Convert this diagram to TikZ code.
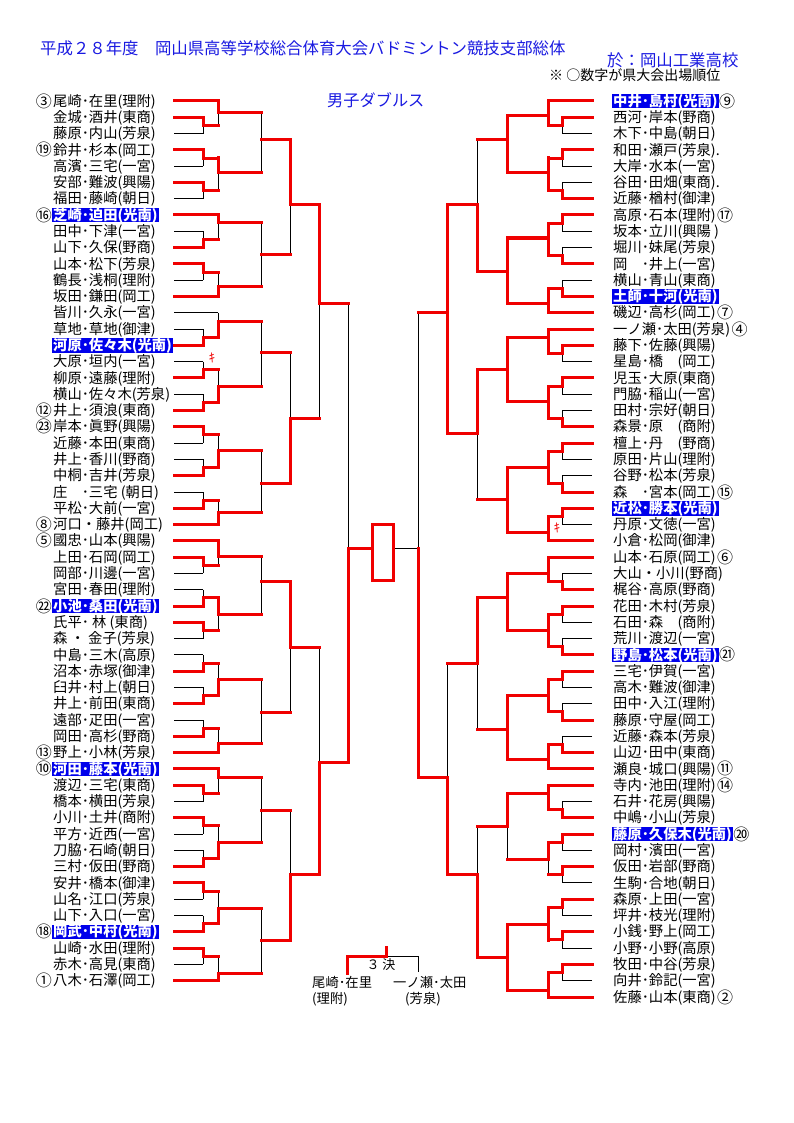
\documentclass[tikz,border=0pt]{standalone}
\usepackage{fontspec}
\setmainfont{Noto Sans CJK JP}
\pgfdeclarelayer{back}
\pgfdeclarelayer{bg}
\pgfsetlayers{back,bg,main}
\definecolor{rd}{RGB}{240,0,0}
\definecolor{tb}{RGB}{26,26,225}
\definecolor{hb}{RGB}{0,0,235}
\newcommand\nmfont{\fontsize{14.3}{15}\selectfont}
\newcommand\ccfont{\fontsize{16}{16}\selectfont}
\newcommand\RH[3]{\draw[rdl] (#1,#3) -- (#2,#3);}
\newcommand\BH[3]{\begin{pgfonlayer}{bg}\draw[blk] (#1,#3) -- (#2,#3);\end{pgfonlayer}}
\newcommand\Mtch[6]{%
 \begin{pgfonlayer}{bg}\draw[blk] (#1,#2) -- (#1,#3);\end{pgfonlayer}%
 \if t#6\draw[rdl] (#1,#2) -- (#1,#4);\fi
 \if b#6\draw[rdl] (#1,#3) -- (#1,#4);\fi
 \if a#6\draw[rdl] (#1,#2) -- (#1,#3);\fi
 \draw[rdl] (#1,#4) -- (#5,#4);}
\newcommand\Pairx[6]{%
 \pgfmathsetmacro\ym{(#4+#5)/2}%
 \if t#6\RH{#1}{#2}{#4}\BH{#1}{#2}{#5}\else\BH{#1}{#2}{#4}\RH{#1}{#2}{#5}\fi
 \Mtch{#2}{#4}{#5}{\ym}{#3}{#6}}
\newcommand\LN[4]{%
 \node[nm,#4,anchor=west] (L#1) at (52,{101+(#1-1)*16.29}) {#3};
 \node[cc,anchor=east] at (L#1.west) {#2};}
\newcommand\RN[4]{%
 \node[nm,#4,anchor=west] (R#1) at (612,{101+(#1-1)*16.29}) {#3};
 \node[cc,anchor=west] at (R#1.east) {#2};}
\begin{document}
\begin{tikzpicture}[x=1pt,y=-1pt,
  rdl/.style={draw=rd,line width=3pt,line cap=rect},
  blk/.style={draw=black,line width=0.9pt},
  nm/.style={font=\nmfont,inner xsep=1pt,inner ysep=0.4pt,text height=12pt,text depth=1.7pt},
  cc/.style={font=\ccfont,inner sep=0pt},
  hl/.style={fill=hb,text=white,font=\nmfont\bfseries},
  ki/.style={text=rd,font=\fontsize{12.5}{13}\selectfont,inner sep=0pt}]
\begin{pgfonlayer}{back}
\fill[white] (0,0) rectangle (794,1123);
\end{pgfonlayer}
\useasboundingbox (0,0) rectangle (794,1123);
% header
\node[anchor=west,text=tb,font=\fontsize{16.4}{18}\selectfont,inner sep=0pt] (title) at (40,48) {平成２８年度　岡山県高等学校総合体育大会バドミントン競技支部総体};
\node[anchor=west,text=tb,font=\fontsize{16.4}{18}\selectfont,inner sep=0pt] (venue) at (607,60) {於：岡山工業高校};
\node[anchor=west,font=\fontsize{14}{16}\selectfont,inner sep=0pt] (note) at (549,75) {※ ○数字が県大会出場順位};
\node[anchor=west,text=tb,font=\fontsize{16.2}{18}\selectfont,inner sep=0pt] (event) at (327,100) {男子ダブルス};
% left names
\LN{1}{③}{尾崎･在里(理附)}{}
\LN{2}{}{金城･酒井(東商)}{}
\LN{3}{}{藤原･内山(芳泉)}{}
\LN{4}{⑲}{鈴井･杉本(岡工)}{}
\LN{5}{}{高濱･三宅(一宮)}{}
\LN{6}{}{安部･難波(興陽)}{}
\LN{7}{}{福田･藤崎(朝日)}{}
\LN{8}{⑯}{芝崎･迫田(光南)}{hl}
\LN{9}{}{田中･下津(一宮)}{}
\LN{10}{}{山下･久保(野商)}{}
\LN{11}{}{山本･松下(芳泉)}{}
\LN{12}{}{鶴長･浅桐(理附)}{}
\LN{13}{}{坂田･鎌田(岡工)}{}
\LN{14}{}{皆川･久永(一宮)}{}
\LN{15}{}{草地･草地(御津)}{}
\LN{16}{}{河原･佐々木(光南)}{hl}
\LN{17}{}{大原･垣内(一宮)}{}
\LN{18}{}{柳原･遠藤(理附)}{}
\LN{19}{}{横山･佐々木(芳泉)}{}
\LN{20}{⑫}{井上･須浪(東商)}{}
\LN{21}{㉓}{岸本･眞野(興陽)}{}
\LN{22}{}{近藤･本田(東商)}{}
\LN{23}{}{井上･香川(野商)}{}
\LN{24}{}{中桐･吉井(芳泉)}{}
\LN{25}{}{庄　･三宅 (朝日)}{}
\LN{26}{}{平松･大前(一宮)}{}
\LN{27}{⑧}{河口・藤井(岡工)}{}
\LN{28}{⑤}{國忠･山本(興陽)}{}
\LN{29}{}{上田･石岡(岡工)}{}
\LN{30}{}{岡部･川邊(一宮)}{}
\LN{31}{}{宮田･春田(理附)}{}
\LN{32}{㉒}{小池･桑田(光南)}{hl}
\LN{33}{}{氏平･ 林 (東商)}{}
\LN{34}{}{森 ・ 金子(芳泉)}{}
\LN{35}{}{中島･三木(高原)}{}
\LN{36}{}{沼本･赤塚(御津)}{}
\LN{37}{}{臼井･村上(朝日)}{}
\LN{38}{}{井上･前田(東商)}{}
\LN{39}{}{遠部･疋田(一宮)}{}
\LN{40}{}{岡田･高杉(野商)}{}
\LN{41}{⑬}{野上･小林(芳泉)}{}
\LN{42}{⑩}{河田･藤本(光南)}{hl}
\LN{43}{}{渡辺･三宅(東商)}{}
\LN{44}{}{橋本･横田(芳泉)}{}
\LN{45}{}{小川･土井(商附)}{}
\LN{46}{}{平方･近西(一宮)}{}
\LN{47}{}{刀脇･石崎(朝日)}{}
\LN{48}{}{三村･仮田(野商)}{}
\LN{49}{}{安井･橋本(御津)}{}
\LN{50}{}{山名･江口(芳泉)}{}
\LN{51}{}{山下･入口(一宮)}{}
\LN{52}{⑱}{岡武･中村(光南)}{hl}
\LN{53}{}{山崎･水田(理附)}{}
\LN{54}{}{赤木･高見(東商)}{}
\LN{55}{①}{八木･石澤(岡工)}{}
% right names
\RN{1}{⑨}{中井･島村(光南)}{hl}
\RN{2}{}{西河･岸本(野商)}{}
\RN{3}{}{木下･中島(朝日)}{}
\RN{4}{}{和田･瀬戸(芳泉).}{}
\RN{5}{}{大岸･水本(一宮)}{}
\RN{6}{}{谷田･田畑(東商).}{}
\RN{7}{}{近藤･楢村(御津)}{}
\RN{8}{⑰}{高原･石本(理附)}{}
\RN{9}{}{坂本･立川(興陽 )}{}
\RN{10}{}{堀川･妹尾(芳泉)}{}
\RN{11}{}{岡　･井上(一宮)}{}
\RN{12}{}{横山･青山(東商)}{}
\RN{13}{}{土師･十河(光南)}{hl}
\RN{14}{⑦}{磯辺･高杉(岡工)}{}
\RN{15}{④}{一ノ瀬･太田(芳泉)}{}
\RN{16}{}{藤下･佐藤(興陽)}{}
\RN{17}{}{星島･橋　(岡工)}{}
\RN{18}{}{児玉･大原(東商)}{}
\RN{19}{}{門脇･稲山(一宮)}{}
\RN{20}{}{田村･宗好(朝日)}{}
\RN{21}{}{森景･原　(商附)}{}
\RN{22}{}{檀上･丹　(野商)}{}
\RN{23}{}{原田･片山(理附)}{}
\RN{24}{}{谷野･松本(芳泉)}{}
\RN{25}{⑮}{森　･宮本(岡工)}{}
\RN{26}{}{近松･勝本(光南)}{hl}
\RN{27}{}{丹原･文徳(一宮)}{}
\RN{28}{}{小倉･松岡(御津)}{}
\RN{29}{⑥}{山本･石原(岡工)}{}
\RN{30}{}{大山・小川(野商)}{}
\RN{31}{}{梶谷･高原(野商)}{}
\RN{32}{}{花田･木村(芳泉)}{}
\RN{33}{}{石田･森　(商附)}{}
\RN{34}{}{荒川･渡辺(一宮)}{}
\RN{35}{㉑}{野島･松本(光南)}{hl}
\RN{36}{}{三宅･伊賀(一宮)}{}
\RN{37}{}{高木･難波(御津)}{}
\RN{38}{}{田中･入江(理附)}{}
\RN{39}{}{藤原･守屋(岡工)}{}
\RN{40}{}{近藤･森本(芳泉)}{}
\RN{41}{}{山辺･田中(東商)}{}
\RN{42}{⑪}{瀬良･城口(興陽)}{}
\RN{43}{⑭}{寺内･池田(理附)}{}
\RN{44}{}{石井･花房(興陽)}{}
\RN{45}{}{中嶋･小山(芳泉)}{}
\RN{46}{⑳}{藤原･久保木(光南)}{hl}
\RN{47}{}{岡村･濱田(一宮)}{}
\RN{48}{}{仮田･岩部(野商)}{}
\RN{49}{}{生駒･合地(朝日)}{}
\RN{50}{}{森原･上田(一宮)}{}
\RN{51}{}{坪井･枝光(理附)}{}
\RN{52}{}{小銭･野上(岡工)}{}
\RN{53}{}{小野･小野(高原)}{}
\RN{54}{}{牧田･中谷(芳泉)}{}
\RN{55}{}{向井･鈴記(一宮)}{}
\RN{56}{②}{佐藤･山本(東商)}{}
% ---------- left bracket
\RH{174}{218}{101}
\Pairx{174}{203}{218}{117.3}{133.6}{t}
\Mtch{218}{101}{125.4}{113}{261}{t}
\Pairx{174}{203}{218}{149.9}{166.2}{t}
\Pairx{174}{203}{218}{182.5}{198.7}{t}
\Mtch{218}{158}{190.6}{173}{261}{t}
\Mtch{261}{113}{173}{140}{290}{n}
\RH{174}{218}{215}
\Pairx{174}{203}{218}{231.3}{247.6}{b}
\Mtch{218}{215}{239.5}{223}{261}{t}
\Pairx{174}{203}{218}{263.9}{280.2}{t}
\RH{174}{218}{296.5}
\Mtch{218}{272.1}{296.5}{286}{261}{b}
\Mtch{261}{223}{286}{254}{290}{n}
\Mtch{290}{140}{254}{205}{319}{t}
\BH{174}{218}{312.8}
\Pairx{174}{203}{218}{329.1}{345.4}{b}
\Mtch{218}{312.8}{337.2}{321}{261}{b}
\Pairx{174}{203}{218}{361.6}{377.9}{b}
\Pairx{174}{203}{218}{394.2}{410.5}{b}
\Mtch{218}{369.8}{402.4}{386}{261}{b}
\Mtch{261}{321}{386}{352}{290}{n}
\Pairx{174}{203}{218}{426.8}{443.1}{t}
\Pairx{174}{203}{218}{459.4}{475.7}{b}
\Mtch{218}{435}{467.5}{450}{261}{b}
\Pairx{174}{203}{218}{492}{508.3}{b}
\RH{174}{218}{524.5}
\Mtch{218}{500.1}{524.5}{512}{261}{b}
\Mtch{261}{450}{512}{483}{290}{n}
\Mtch{290}{352}{483}{418}{319}{b}
\Mtch{319}{205}{418}{303}{348}{t}
\RH{174}{218}{540.8}
\Pairx{174}{203}{218}{557.1}{573.4}{t}
\Mtch{218}{540.8}{565.3}{556}{261}{t}
\Pairx{174}{203}{218}{589.7}{606}{b}
\Pairx{174}{203}{218}{622.3}{638.6}{t}
\Mtch{218}{597.8}{630.4}{614}{261}{t}
\Mtch{261}{556}{614}{581}{290}{n}
\Pairx{174}{203}{218}{654.9}{671.2}{b}
\Pairx{174}{203}{218}{687.4}{703.7}{b}
\Mtch{218}{663}{695.6}{679}{261}{b}
\Pairx{174}{203}{218}{720}{736.3}{b}
\RH{174}{218}{752.6}
\Mtch{218}{728.2}{752.6}{743}{261}{b}
\Mtch{261}{679}{743}{712}{290}{n}
\Mtch{290}{581}{712}{647}{319}{t}
\RH{174}{218}{768.9}
\Pairx{174}{203}{218}{785.2}{801.5}{t}
\Mtch{218}{768.9}{793.3}{777}{261}{t}
\Pairx{174}{203}{218}{817.8}{834.1}{t}
\Pairx{174}{203}{218}{850.3}{866.6}{b}
\Mtch{218}{826}{858.5}{842}{261}{b}
\Mtch{261}{777}{842}{810}{290}{n}
\Pairx{174}{203}{218}{882.9}{899.2}{t}
\Pairx{174}{203}{218}{915.5}{931.8}{b}
\Mtch{218}{891}{923.6}{908}{261}{b}
\Pairx{174}{203}{218}{948.1}{964.4}{t}
\RH{174}{218}{980.7}
\Mtch{218}{956.2}{980.7}{973}{261}{b}
\Mtch{261}{908}{973}{940}{290}{n}
\Mtch{290}{810}{940}{874}{319}{b}
\Mtch{319}{647}{874}{762}{348}{b}
\Mtch{348}{303}{762}{548.5}{372.3}{b}
% ---------- right bracket
\RH{592}{548}{101}
\Pairx{592}{562}{548}{117.3}{133.6}{t}
\Mtch{548}{101}{125.4}{116}{507}{a}
\Pairx{592}{562}{548}{149.9}{166.2}{t}
\Pairx{592}{562}{548}{182.5}{198.7}{b}
\Mtch{548}{158}{190.6}{173}{507}{a}
\Mtch{507}{116}{173}{140}{477}{a}
\Pairx{592}{562}{548}{215}{231.3}{t}
\Pairx{592}{562}{548}{247.6}{263.9}{b}
\Mtch{548}{223.2}{255.7}{238}{507}{a}
\Pairx{592}{562}{548}{280.2}{296.5}{b}
\RH{592}{548}{312.8}
\Mtch{548}{288.3}{312.8}{303}{507}{a}
\Mtch{507}{238}{303}{271}{477}{a}
\Mtch{477}{140}{271}{205}{447}{b}
\RH{592}{548}{329.1}
\Pairx{592}{562}{548}{345.4}{361.6}{t}
\Mtch{548}{329.1}{353.5}{337}{507}{a}
\Pairx{592}{562}{548}{377.9}{394.2}{t}
\Pairx{592}{562}{548}{410.5}{426.8}{b}
\Mtch{548}{386}{418.6}{401}{507}{a}
\Mtch{507}{337}{401}{369}{477}{a}
\Pairx{592}{562}{548}{443.1}{459.4}{t}
\Pairx{592}{562}{548}{475.7}{492}{b}
\Mtch{548}{451.2}{483.8}{467}{507}{a}
\Pairx{592}{562}{548}{508.3}{524.5}{t}
\RH{592}{548}{540.8}
\Mtch{548}{516.4}{540.8}{532}{507}{a}
\Mtch{507}{467}{532}{499}{477}{a}
\Mtch{477}{369}{499}{433}{447}{t}
\Mtch{447}{205}{433}{312}{418}{a}
\RH{592}{548}{557.1}
\Pairx{592}{562}{548}{573.4}{589.7}{b}
\Mtch{548}{557.1}{581.5}{573}{507}{a}
\Pairx{592}{562}{548}{606}{622.3}{t}
\Pairx{592}{562}{548}{638.6}{654.9}{b}
\Mtch{548}{614.1}{646.7}{630}{507}{a}
\Mtch{507}{573}{630}{597}{477}{a}
\Pairx{592}{562}{548}{671.2}{687.4}{t}
\Pairx{592}{562}{548}{703.7}{720}{b}
\Mtch{548}{679.3}{711.9}{695}{507}{a}
\Pairx{592}{562}{548}{736.3}{752.6}{b}
\RH{592}{548}{768.9}
\Mtch{548}{744.5}{768.9}{759}{507}{a}
\Mtch{507}{695}{759}{729}{477}{a}
\Mtch{477}{597}{729}{663}{447}{t}
\RH{592}{548}{785.2}
\Pairx{592}{562}{548}{801.5}{817.8}{b}
\Mtch{548}{785.2}{809.7}{793}{507}{a}
\Pairx{592}{562}{548}{834.1}{850.3}{t}
\Pairx{592}{562}{548}{866.6}{882.9}{t}
\Mtch{548}{842.2}{874.8}{859}{507}{t}
\Mtch{507}{793}{859}{826}{477}{t}
\Pairx{592}{562}{548}{899.2}{915.5}{t}
\Pairx{592}{562}{548}{931.8}{948.1}{t}
\Mtch{548}{907.4}{940}{924}{507}{a}
\Pairx{592}{562}{548}{964.4}{980.7}{t}
\RH{592}{548}{997}
\Mtch{548}{972.6}{997}{990}{507}{a}
\Mtch{507}{924}{990}{957}{477}{a}
\Mtch{477}{826}{957}{874}{447}{b}
\Mtch{447}{663}{874}{777}{418}{b}
\begin{pgfonlayer}{bg}
\draw[blk] (418,312) -- (418,777);
\draw[blk] (418,548.5) -- (393.3,548.5);
\end{pgfonlayer}
\draw[rdl] (418,548.5) -- (418,777);
% final box
\draw[rdl] (372.3,524) rectangle (393.3,580.7);
% forfeit marks
\node[ki] (kiL) at (212,358) {ｷ};
\node[ki] (kiR) at (557,528) {ｷ};
% third place
\node[font=\fontsize{13}{15}\selectfont,inner sep=0pt] (t3) at (381,965) {３ 決};
\node[font=\fontsize{13.3}{15}\selectfont,anchor=west,inner sep=0pt] (t3L) at (312,982) {尾崎･在里};
\node[font=\fontsize{13.3}{15}\selectfont,anchor=west,inner sep=0pt] (t3Ls) at (312,999) {(理附)};
\node[font=\fontsize{13.3}{15}\selectfont,anchor=west,inner sep=0pt] (t3R) at (393,982) {一ノ瀬･太田};
\node[font=\fontsize{13.3}{15}\selectfont,anchor=west,inner sep=0pt] (t3Rs) at (405,999) {(芳泉)};
\begin{pgfonlayer}{bg}
\draw[blk] (386.7,956) -- (418.3,956) -- (418.3,972);
\end{pgfonlayer}
\draw[rdl] (347.3,973) -- (347.3,956) -- (386.7,956) -- (386.7,947);
\end{tikzpicture}
\end{document}
